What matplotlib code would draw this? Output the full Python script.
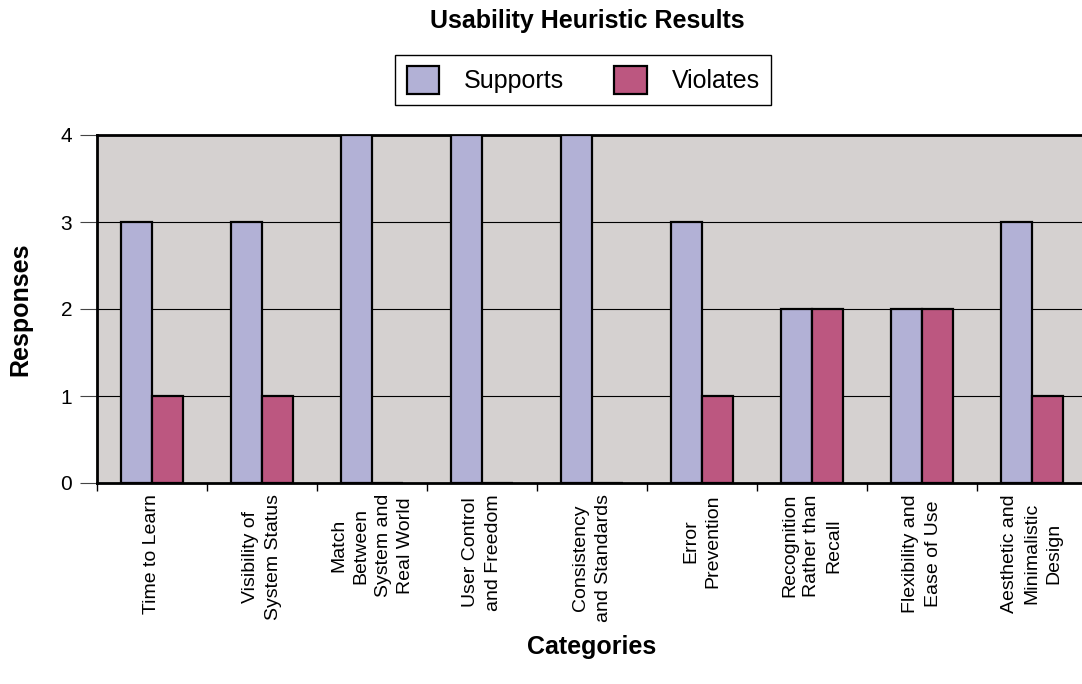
import numpy as np
import matplotlib.pyplot as plt
from matplotlib.ticker import FixedLocator

plt.rcParams["font.family"] = ["Liberation Sans", "DejaVu Sans"]

categories = [
    "Time to Learn",
    "Visibility of\nSystem Status",
    "Match\nBetween\nSystem and\nReal World",
    "User Control\nand Freedom",
    "Consistency\nand Standards",
    "Error\nPrevention",
    "Recognition\nRather than\nRecall",
    "Flexibility and\nEase of Use",
    "Aesthetic and\nMinimalistic\nDesign",
]
supports = [3, 3, 4, 4, 4, 3, 2, 2, 3]
violates = [1, 1, 0, 0, 0, 1, 2, 2, 1]

SUP_COLOR = "#b2b1d6"
VIO_COLOR = "#bc5780"
BG_COLOR = "#d5d1d0"


def main():
    fig = plt.figure(figsize=(10.82, 6.84), dpi=100)
    ax = fig.add_axes([97 / 1082, 1 - 483 / 684, 990 / 1082, 348 / 684])
    ax.set_facecolor(BG_COLOR)

    x = np.arange(len(categories))
    w = 0.285
    ax.bar(x - w / 2, supports, w, color=SUP_COLOR, edgecolor="black",
           linewidth=1.6, label="Supports", zorder=3)
    ax.bar(x + w / 2, violates, w, color=VIO_COLOR, edgecolor="black",
           linewidth=1.6, label="Violates", zorder=3)

    ax.set_xlim(-0.5, len(categories) - 0.5)
    ax.set_ylim(0, 4)
    ax.set_yticks([0, 1, 2, 3, 4])
    ax.yaxis.grid(True, color="black", linewidth=0.8, zorder=1)
    ax.tick_params(axis="y", length=12, width=0.8, color="#444444",
                   labelsize=15, pad=6)

    # category labels at bar centres, tick marks on the boundaries
    ax.set_xticks(x)
    ax.set_xticklabels(categories, rotation=90, ha="center", va="top",
                       multialignment="center", fontsize=14, linespacing=1.4)
    ax.tick_params(axis="x", which="major", length=0, pad=8)
    ax.xaxis.set_minor_locator(FixedLocator(np.arange(-0.5, len(categories), 1)))
    ax.tick_params(axis="x", which="minor", length=6, width=1, color="black")

    for side in ["left", "top", "bottom"]:
        ax.spines[side].set_linewidth(2)
    ax.spines["right"].set_visible(False)

    ax.set_ylabel("Responses", fontsize=18, fontweight="bold", labelpad=20)
    ax.set_xlabel("Categories", fontsize=18, fontweight="bold", labelpad=9)
    fig.text(0.5425, 0.97, "Usability Heuristic Results", ha="center",
             va="center", fontsize=18, fontweight="bold")

    fig.legend(loc="center", bbox_to_anchor=(0.539, 0.883), ncol=2,
               fontsize=18, frameon=True, fancybox=False, edgecolor="black",
               handlelength=1.3, handleheight=1.3, columnspacing=2.0,
               handletextpad=1.0, borderpad=0.45, framealpha=1)

    plt.savefig("out.png", dpi=100)
    plt.close()


if __name__ == "__main__":
    main()
